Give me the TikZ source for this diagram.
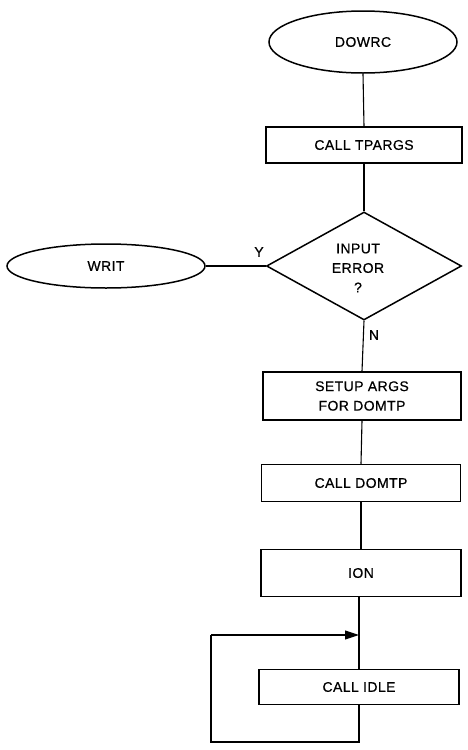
\documentclass[tikz,border=0pt]{standalone}
\usepackage{fontspec}
\setmainfont[LetterSpace=3,FakeBold=0.6]{Liberation Sans}
\usetikzlibrary{shapes.geometric,arrows.meta}
\begin{document}
\begin{tikzpicture}[x=1pt,y=-1pt,
  every node/.style={font=\fontsize{14}{19.5}\selectfont},
  oval/.style={ellipse,draw,line width=1.5pt,inner sep=0pt},
  procbox/.style={rectangle,draw,line width=1.5pt,inner sep=0pt,align=center},
  decide/.style={diamond,draw,line width=1.5pt,inner sep=0pt,aspect=1.8,align=center},
  conn/.style={line width=1.1pt},
  lbl/.style={inner sep=0pt}]
\useasboundingbox (0,0) rectangle (467,750);
\node[oval,minimum width=188pt,minimum height=62pt] (dowrc) at (363,42) {DOWRC};
\node[procbox,minimum width=196pt,minimum height=36pt] (tpargs) at (364,145) {CALL TPARGS};
\node[decide,minimum width=195pt,minimum height=108pt] (err) at (364,266) {};
\node[lbl,align=center] (errtxt) at (358,268) {INPUT\\ERROR\\?};
\node[oval,minimum width=198pt,minimum height=44pt] (writ) at (106,266) {WRIT};
\node[lbl] (ylab) at (259,252) {Y};
\node[lbl] (nlab) at (374,335) {N};
\node[procbox,minimum width=198pt,minimum height=48pt] (setup) at (362,396) {SETUP ARGS\\FOR DOMTP};
\node[procbox,minimum width=199pt,minimum height=37pt] (domtp) at (361,483) {CALL DOMTP};
\node[procbox,minimum width=200pt,minimum height=47pt] (ion) at (361,573) {ION};
\node[procbox,minimum width=200pt,minimum height=35pt] (idle) at (359,687) {CALL IDLE};
\coordinate (join) at (359,635);
\coordinate (bl) at (211,742);
\coordinate (tl) at (211,635);
\draw[conn] (dowrc.south) -- (tpargs.north);
\draw[conn] (tpargs.south) -- (err.north);
\draw[conn] (writ.east) -- (err.west);
\draw[conn] (err.south) -- (setup.north);
\draw[conn] (setup.south) -- (domtp.north);
\draw[conn] (domtp.south) -- (ion.north);
\draw[conn] (ion.south -| join) -- (join) -- (idle.north -| join);
\draw[conn] (idle.south -| join) |- (bl) -- (tl);
\draw[conn,-{Triangle[length=14pt,width=9pt]}] (tl) -- (join);
\end{tikzpicture}
\end{document}
